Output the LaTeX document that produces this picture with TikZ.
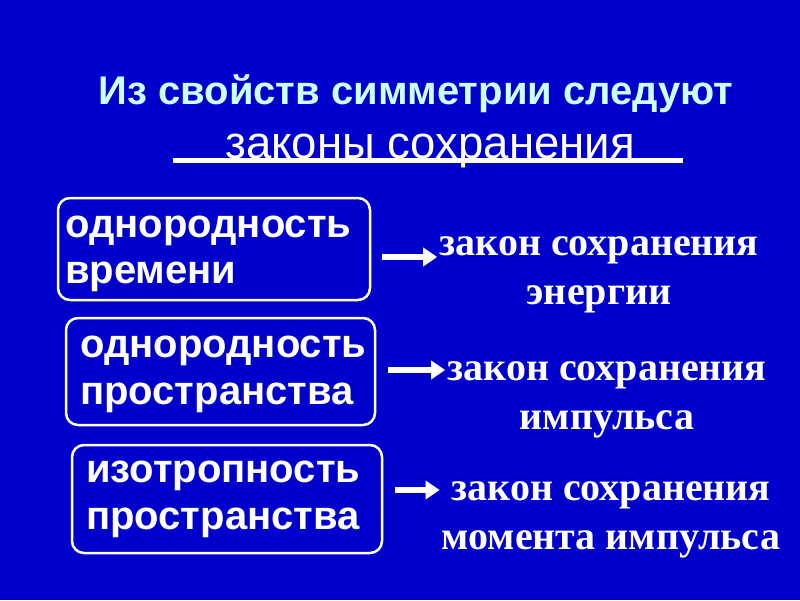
\documentclass[tikz,border=0pt]{standalone}
\usepackage{fontspec}
\setmainfont{Liberation Serif}
\setsansfont{Liberation Sans}
\usetikzlibrary{arrows.meta}
\definecolor{bg}{HTML}{0000CC}
\definecolor{ttl}{HTML}{CCFFFF}
\begin{document}
\begin{tikzpicture}[x=1pt,y=-1pt,
  box/.style={draw=white,line width=2.5pt,rounded corners=12pt},
  boxtext/.style={anchor=west,text=white,font=\sffamily\bfseries\fontsize{40}{48}\selectfont,inner sep=0pt},
  lawtext/.style={text=white,font=\rmfamily\bfseries\fontsize{40}{49}\selectfont,align=center,inner sep=0pt},
  arr/.style={white,line width=6pt,-{Triangle[length=14pt,width=18pt]}}]
\fill[bg] (0,0) rectangle (800,600);
\useasboundingbox (0,0) rectangle (800,600);
\node[text=ttl,font=\sffamily\bfseries\fontsize{40}{44}\selectfont,inner sep=0pt] (title) at (416,94) {Из свойств симметрии следуют};
\node[text=white,font=\sffamily\fontsize{45.5}{50}\selectfont,inner sep=0pt] (sub) at (430,151) {законы сохранения};
\coordinate (ul1) at (173,160);
\coordinate (ul2) at (683,160);
\draw[white,line width=5pt] (ul1) -- (ul2);
% boxes
\draw[box] (58,198) rectangle (370,300);
\node[boxtext] (b1a) at (65,231) {однородность};
\node[boxtext] (b1b) at (65,277) {времени};
\draw[box] (66,318) rectangle (375,425);
\node[boxtext] (b2a) at (80,351) {однородность};
\node[boxtext] (b2b) at (80,398) {пространства};
\draw[box] (72,445) rectangle (382,553);
\node[boxtext] (b3a) at (86,476) {изотропность};
\node[boxtext] (b3b) at (86,523) {пространства};
% law texts
\node[lawtext] (l1) at (599,275) {закон сохранения\\энергии};
\node[lawtext] (l2) at (607,400) {закон сохранения\\импульса};
\node[lawtext] (l3) at (611,520) {закон сохранения\\момента импульса};
% arrows
\coordinate (a1s) at (382,257);
\coordinate (a2s) at (388,370);
\coordinate (a3s) at (395,490);
\draw[arr] (a1s) -- ([xshift=-2pt]l1.west |- a1s);
\draw[arr] (a2s) -- ([xshift=-2pt]l2.west |- a2s);
\draw[arr] (a3s) -- ([xshift=-2pt]l3.west |- a3s);
\end{tikzpicture}
\end{document}
